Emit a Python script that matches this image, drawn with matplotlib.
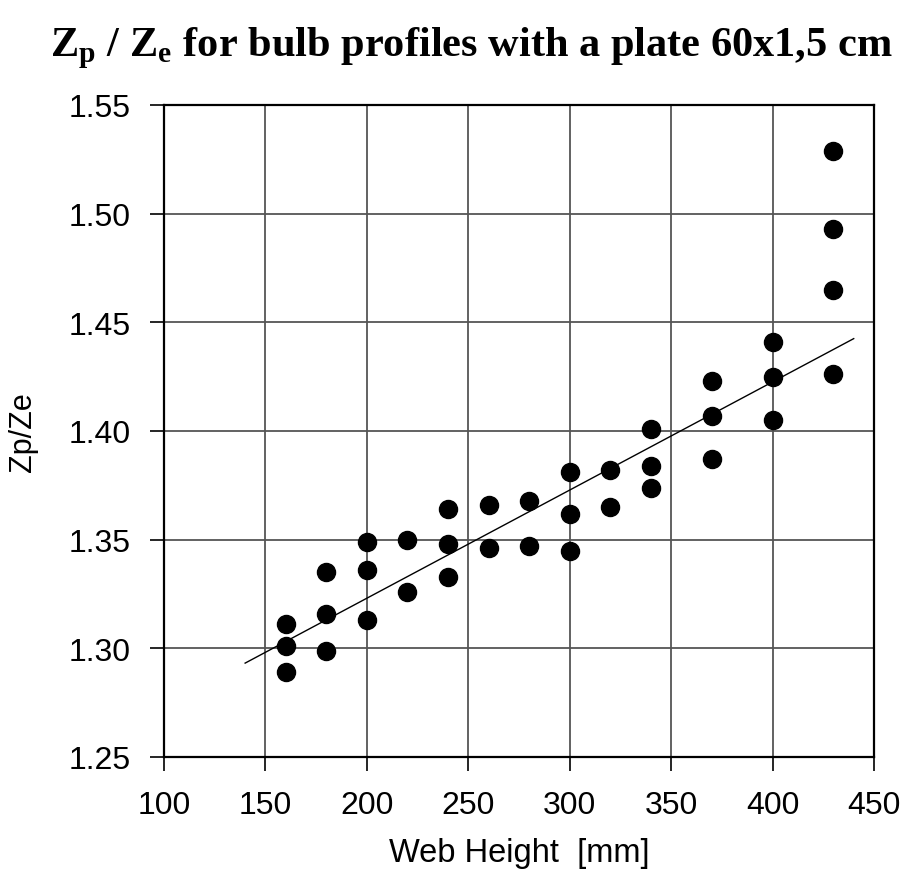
import numpy as np
import matplotlib
matplotlib.use('Agg')
import matplotlib.pyplot as plt
from matplotlib.ticker import FormatStrFormatter

plt.rcParams['font.family'] = 'Liberation Sans'
plt.rcParams['mathtext.fontset'] = 'custom'
plt.rcParams['mathtext.rm'] = 'Liberation Serif:bold'
plt.rcParams['mathtext.bf'] = 'Liberation Serif:bold'

web_height = [160, 160, 160,
              180, 180, 180,
              200, 200, 200,
              220, 220,
              240, 240, 240,
              260, 260,
              280, 280,
              300, 300, 300,
              320, 320,
              340, 340, 340,
              370, 370, 370,
              400, 400, 400,
              430, 430, 430, 430]
zp_ze = [1.311, 1.301, 1.289,
         1.335, 1.316, 1.299,
         1.349, 1.336, 1.313,
         1.350, 1.326,
         1.364, 1.348, 1.333,
         1.366, 1.346,
         1.368, 1.347,
         1.381, 1.362, 1.345,
         1.382, 1.365,
         1.401, 1.384, 1.374,
         1.423, 1.407, 1.387,
         1.441, 1.425, 1.405,
         1.529, 1.493, 1.465, 1.426]
# trend line
trend_x = [140, 440]
trend_y = [1.2932, 1.4425]

fig = plt.figure(figsize=(9.04, 8.78), dpi=100)
ax = fig.add_axes([164/904, 1 - 758/878, 710/904, 652/878])

ax.plot(trend_x, trend_y, color='k', lw=1, zorder=2)
ax.plot(web_height, zp_ze, 'o', color='k', ms=13, zorder=3)

ax.set_xlim(100, 450)
ax.set_ylim(1.25, 1.55)
ax.set_xticks(np.arange(100, 451, 50))
ax.set_yticks(np.arange(1.25, 1.551, 0.05))
ax.yaxis.set_major_formatter(FormatStrFormatter('%.2f'))
ax.grid(True, color='#555555', lw=1.3)
ax.set_axisbelow(True)
for s in ax.spines.values():
    s.set_linewidth(1.6)
ax.tick_params(direction='out', length=10, width=1.2, labelsize=23, pad=14)

ax.set_xlabel('Web Height  [mm]', fontsize=23.5)
ax.xaxis.set_label_coords(0.5, -0.122)
ax.set_ylabel('Zp/Ze', fontsize=22)
ax.yaxis.set_label_coords(-0.178, 0.5)

fig.text(50/904, 1 - 56/878, r'Z$_\mathrm{p}$ / Z$_\mathrm{e}$ for bulb profiles with a plate 60x1,5 cm',
         fontsize=30.5, fontweight='bold', family='Liberation Serif', ha='left', va='baseline')

fig.savefig('out.png', dpi=100)
